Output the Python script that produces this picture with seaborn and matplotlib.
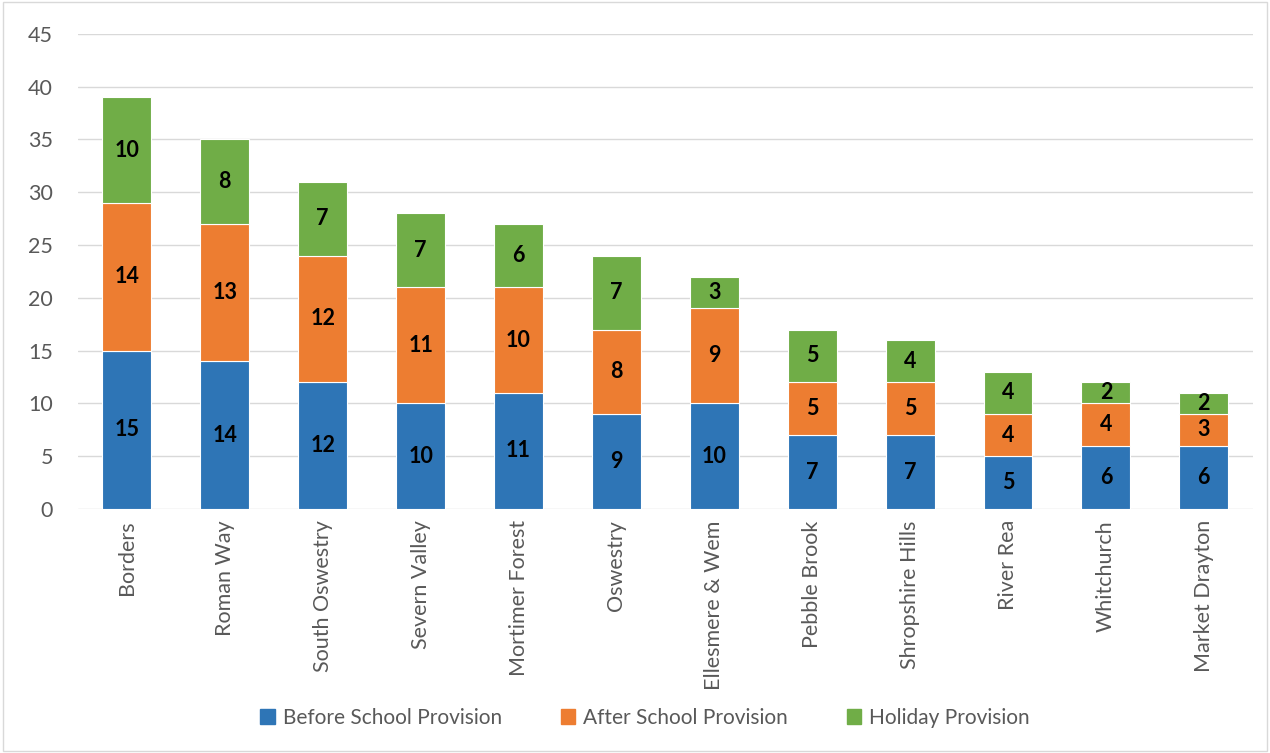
import matplotlib
matplotlib.use("Agg")
import matplotlib.pyplot as plt
import matplotlib.patches as mpatches
import seaborn as sns
import numpy as np

categories = ["Borders", "Roman Way", "South Oswestry", "Severn Valley", "Mortimer Forest",
              "Oswestry", "Ellesmere & Wem", "Pebble Brook", "Shropshire Hills", "River Rea",
              "Whitchurch", "Market Drayton"]
before_school = [15, 14, 12, 10, 11, 9, 10, 7, 7, 5, 6, 6]
after_school = [14, 13, 12, 11, 10, 8, 9, 5, 5, 4, 4, 3]
holiday = [10, 8, 7, 7, 6, 7, 3, 5, 4, 4, 2, 2]
series_names = ["Before School Provision", "After School Provision", "Holiday Provision"]
colors = ["#2E75B6", "#ED7D31", "#70AD47"]
y_ticks = [0, 5, 10, 15, 20, 25, 30, 35, 40, 45]

sns.set_theme(style="white")
plt.rcParams['font.family'] = ['Lato', 'DejaVu Sans']

fig = plt.figure(figsize=(12.7, 7.53), dpi=100)
ax = fig.add_axes([0.0614, 0.324, 0.925, 0.631])

series = [before_school, after_school, holiday]
bottom = np.zeros(len(categories))
for name, vals, col in zip(series_names, series, colors):
    sns.barplot(x=categories, y=vals, bottom=bottom, color=col, width=0.5,
                edgecolor="white", linewidth=0.8, ax=ax, saturation=1)
    bottom = bottom + np.array(vals)

for container in ax.containers:
    ax.bar_label(container, label_type="center", fontsize=15.5, fontweight="bold",
                 color="black")

ax.set_ylim(0, 45)
ax.set_yticks(y_ticks)
ax.set_xlim(-0.5, len(categories) - 0.5)
ax.yaxis.grid(True, color="#D9D9D9", linewidth=1)
ax.set_axisbelow(True)
for s in ax.spines.values():
    s.set_visible(False)
ax.tick_params(axis="both", length=0, labelsize=15.5, colors="#595959", pad=8)
ax.tick_params(axis="y", pad=18)
plt.setp(ax.get_xticklabels(), rotation=90)
ax.set_xlabel("")
ax.set_ylabel("")
if ax.get_legend() is not None:
    ax.get_legend().remove()

handles = [mpatches.Patch(color=c, label=n) for n, c in zip(series_names, colors)]
fig.legend(handles=handles, loc="center", bbox_to_anchor=(0.508, 0.047), ncol=3,
           frameon=False, fontsize=15, labelcolor="#595959", handlelength=0.7,
           handleheight=0.7, columnspacing=2.8, handletextpad=0.4)

fig.patches.append(mpatches.Rectangle((0.002, 0.002), 0.996, 0.996, transform=fig.transFigure,
                                      fill=False, edgecolor="#D9D9D9", linewidth=1))
fig.savefig("out.png", dpi=100)
